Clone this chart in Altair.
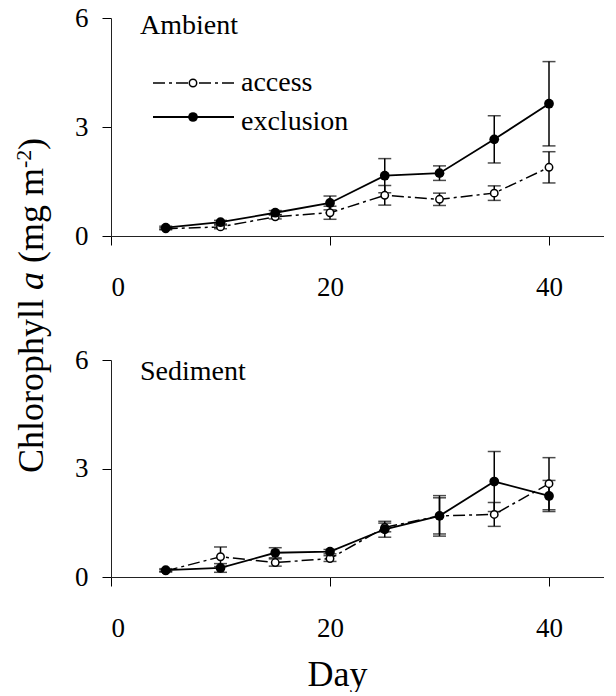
import altair as alt
import pandas as pd

days = [5, 10, 15, 20, 25, 30, 35, 40]

amb_excl_mean = [0.23, 0.38, 0.64, 0.91, 1.66, 1.73, 2.66, 3.64]
amb_excl_se = [0.04, 0.05, 0.06, 0.19, 0.47, 0.20, 0.65, 1.16]
amb_acc_mean = [0.20, 0.25, 0.53, 0.64, 1.12, 1.01, 1.18, 1.89]
amb_acc_se = [0.03, 0.05, 0.06, 0.18, 0.27, 0.17, 0.20, 0.43]

sed_excl_mean = [0.19, 0.25, 0.67, 0.70, 1.32, 1.69, 2.64, 2.24]
sed_excl_se = [0.04, 0.12, 0.14, 0.06, 0.22, 0.56, 0.83, 0.43]
sed_acc_mean = [0.17, 0.56, 0.40, 0.51, 1.37, 1.69, 1.73, 2.58]
sed_acc_se = [0.03, 0.27, 0.10, 0.08, 0.12, 0.50, 0.33, 0.72]

x_ticks = [0, 20, 40]
y_ticks = [0, 3, 6]
series_names = ["access", "exclusion"]

FONT = "'Liberation Serif', 'Times New Roman', Times, 'DejaVu Serif', serif"


def make_df(acc_m, acc_se, ex_m, ex_se):
    rows = []
    for d, m, s in zip(days, acc_m, acc_se):
        rows.append({"day": d, "mean": m, "lo": m - s, "hi": m + s, "series": "access"})
    for d, m, s in zip(days, ex_m, ex_se):
        rows.append({"day": d, "mean": m, "lo": m - s, "hi": m + s, "series": "exclusion"})
    return pd.DataFrame(rows)


def txt(label, x, y, size=28, angle=None, style="normal", align="left", baseline="alphabetic"):
    kw = dict(font=FONT, fontSize=size, align=align, baseline=baseline, color="black",
              fontStyle=style)
    if angle is not None:
        kw["angle"] = angle
    return alt.Chart(pd.DataFrame({"t": [label]})).mark_text(**kw).encode(
        text="t:N", x=alt.value(x), y=alt.value(y))


def panel(df, label, height, label_y, xtitle, extra):
    xaxis_kw = dict(values=x_ticks, grid=False, tickSize=9, labelPadding=29,
                    labelFont=FONT, labelFontSize=27, labelColor="black",
                    tickColor="black", domainColor="#222", labelBaseline="top")
    if xtitle:
        xaxis_kw.update(title="Day", titleFont=FONT, titleFontSize=36,
                        titleFontWeight="normal", titleColor="black",
                        titleX=226, titleY=108, titleAlign="center",
                        titleBaseline="alphabetic")
    else:
        xaxis_kw.update(title=None)
    xaxis = alt.Axis(**xaxis_kw)
    yaxis = alt.Axis(values=y_ticks, grid=False, tickSize=9, labelPadding=14,
                     labelFont=FONT, labelFontSize=27, labelColor="black",
                     tickColor="black", domainColor="#222", title=None)
    xs = alt.Scale(domain=[0, 45], nice=False)
    ys = alt.Scale(domain=[0, 6], nice=False)
    base = alt.Chart(df)
    X = alt.X("day:Q", scale=xs, axis=xaxis)

    acc_line = base.transform_filter(alt.datum.series == "access").mark_line(
        color="black", strokeWidth=1.5, strokeDash=[12, 4, 3, 4]).encode(
        x=X, y=alt.Y("mean:Q", scale=ys, axis=yaxis))
    ex_line = base.transform_filter(alt.datum.series == "exclusion").mark_line(
        color="black", strokeWidth=1.8).encode(
        x=X, y=alt.Y("mean:Q", scale=ys, axis=yaxis))
    err = base.mark_rule(color="black", strokeWidth=1.5).encode(
        x=X, y=alt.Y("lo:Q", scale=ys, axis=yaxis), y2="hi:Q")
    cap_hi = base.mark_tick(orient="horizontal", size=13, thickness=1.5, color="black").encode(
        x=X, y=alt.Y("hi:Q", scale=ys, axis=yaxis))
    cap_lo = base.mark_tick(orient="horizontal", size=13, thickness=1.5, color="black").encode(
        x=X, y=alt.Y("lo:Q", scale=ys, axis=yaxis))
    acc_pts = base.transform_filter(alt.datum.series == "access").mark_point(
        shape="circle", filled=True, fill="white", stroke="black", strokeWidth=1.5,
        size=55, opacity=1).encode(x=X, y=alt.Y("mean:Q", scale=ys, axis=yaxis))
    ex_pts = base.transform_filter(alt.datum.series == "exclusion").mark_circle(
        color="black", size=95, opacity=1).encode(
        x=X, y=alt.Y("mean:Q", scale=ys, axis=yaxis))

    layers = [acc_line, ex_line, err, cap_hi, cap_lo, acc_pts, ex_pts,
              txt(label, 29, label_y)] + extra
    return alt.layer(*layers).properties(width=45 * 10.95, height=height)


# legend (top panel)
leg_df = pd.DataFrame({"s": series_names})
legend = [
    alt.Chart(leg_df.iloc[[0]]).mark_rule(color="black", strokeWidth=1.5,
                                           strokeDash=[12, 4, 3, 4]).encode(
        x=alt.value(42), x2=alt.value(123), y=alt.value(65)),
    alt.Chart(leg_df.iloc[[0]]).mark_point(shape="circle", filled=True, fill="white",
                                           stroke="black", strokeWidth=1.5, size=55,
                                           opacity=1).encode(
        x=alt.value(82), y=alt.value(65)),
    alt.Chart(leg_df.iloc[[1]]).mark_rule(color="black", strokeWidth=1.8).encode(
        x=alt.value(42), x2=alt.value(123), y=alt.value(99)),
    alt.Chart(leg_df.iloc[[1]]).mark_circle(color="black", size=95, opacity=1).encode(
        x=alt.value(82), y=alt.value(99)),
    txt(series_names[0], 130, 73),
    txt(series_names[1], 130, 112),
]

# y-axis title (shared), drawn in the top panel's coordinate frame
ytitle = [
    txt("Chlorophyll", -68, 455, size=36, angle=270),
    txt("a", -68, 272, size=36, angle=270, style="italic"),
    txt("(mg m", -68, 245, size=36, angle=270),
    txt("-2", -80, 150, size=22, angle=270),
    txt(")", -68, 132, size=36, angle=270),
]

top = panel(make_df(amb_acc_mean, amb_acc_se, amb_excl_mean, amb_excl_se),
            "Ambient", 218, 16, False, legend + ytitle)
bottom = panel(make_df(sed_acc_mean, sed_acc_se, sed_excl_mean, sed_excl_se),
               "Sediment", 217, 20, True, [])

chart = alt.vconcat(top, bottom, spacing=124, bounds="flush").properties(
    padding={"left": 5, "top": -4, "right": 0, "bottom": 0}
).configure_view(stroke=None)

chart.save("out.html", embed_options={"renderer": "svg", "actions": False})
